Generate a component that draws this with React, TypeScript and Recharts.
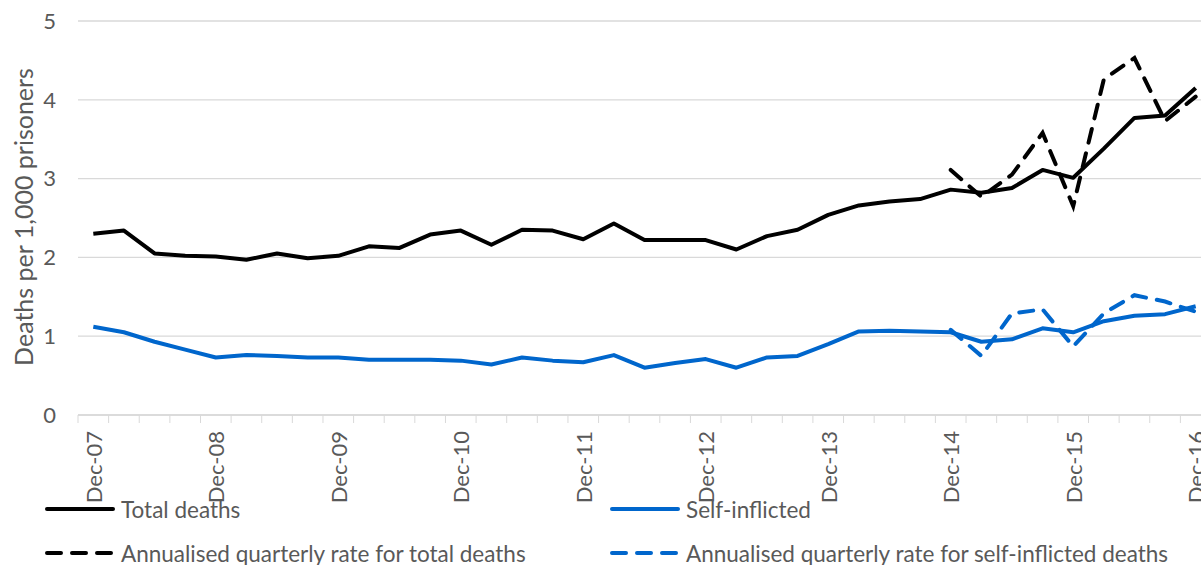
import { LineChart, Line, XAxis, YAxis, CartesianGrid } from "recharts"

const quarters = [
  "Dec-07", "Mar-08", "Jun-08", "Sep-08", "Dec-08", "Mar-09", "Jun-09", "Sep-09",
  "Dec-09", "Mar-10", "Jun-10", "Sep-10", "Dec-10", "Mar-11", "Jun-11", "Sep-11",
  "Dec-11", "Mar-12", "Jun-12", "Sep-12", "Dec-12", "Mar-13", "Jun-13", "Sep-13",
  "Dec-13", "Mar-14", "Jun-14", "Sep-14", "Dec-14", "Mar-15", "Jun-15", "Sep-15",
  "Dec-15", "Mar-16", "Jun-16", "Sep-16", "Dec-16",
]

// tick labels shown on the x axis (one per year)
const tickLabels = ["Dec-07", "Dec-08", "Dec-09", "Dec-10", "Dec-11", "Dec-12", "Dec-13", "Dec-14", "Dec-15", "Dec-16"]

// rolling 12 months rate per 1,000 prisoners
const totalDeaths = [
  2.30, 2.34, 2.05, 2.02, 2.01, 1.97, 2.05, 1.99, 2.02, 2.14, 2.12, 2.29, 2.34, 2.16, 2.35, 2.34,
  2.23, 2.43, 2.22, 2.22, 2.22, 2.10, 2.27, 2.35, 2.54, 2.66, 2.71, 2.74, 2.86, 2.82, 2.88, 3.11,
  3.01, 3.38, 3.77, 3.80, 4.15,
]
const selfInflicted = [
  1.12, 1.05, 0.93, 0.83, 0.73, 0.76, 0.75, 0.73, 0.73, 0.70, 0.70, 0.70, 0.69, 0.64, 0.73, 0.69,
  0.67, 0.76, 0.60, 0.66, 0.71, 0.60, 0.73, 0.75, 0.90, 1.06, 1.07, 1.06, 1.05, 0.93, 0.96, 1.10,
  1.05, 1.19, 1.26, 1.28, 1.38,
]

// annualised quarterly rates, from Dec-14 onwards
const annualStart = "Dec-14"
const annualTotal = [3.11, 2.77, 3.05, 3.58, 2.65, 4.26, 4.53, 3.73, 4.04]
const annualSelf = [1.08, 0.75, 1.29, 1.34, 0.87, 1.29, 1.52, 1.44, 1.31]

const yTicks = [0, 1, 2, 3, 4, 5]

const BLACK = "#000000"
const BLUE = "#0066cc"
const GREY = "#595959"
const GRID = "#d9d9d9"
const FONT = "Lato, 'Noto Sans', sans-serif"
const DASH = "14 11"

const startIdx = quarters.indexOf(annualStart)
const data = quarters.map((q, i) => ({
  idx: i,
  quarter: q,
  total: totalDeaths[i],
  self: selfInflicted[i],
  annualTotal: i >= startIdx ? annualTotal[i - startIdx] : null,
  annualSelf: i >= startIdx ? annualSelf[i - startIdx] : null,
}))

const boundaryTicks = quarters.map((_, i) => i - 0.5).concat([quarters.length - 0.5])
const labelTicks = tickLabels.map((t) => quarters.indexOf(t))
const xTicks = [...boundaryTicks, ...labelTicks].sort((a, b) => a - b)

const legendItems = [
  { name: "Total deaths", color: BLACK, dashed: false, x: 45, y: 509 },
  { name: "Self-inflicted", color: BLUE, dashed: false, x: 610, y: 509 },
  { name: "Annualised quarterly rate for total deaths", color: BLACK, dashed: true, x: 45, y: 553 },
  { name: "Annualised quarterly rate for self-inflicted deaths", color: BLUE, dashed: true, x: 610, y: 553 },
]

function QuarterTick(props: any) {
  const { x, y, payload } = props
  const v = payload.value
  if (!Number.isInteger(v)) {
    return <line x1={x} x2={x} y1={y} y2={y + 8} stroke={GRID} strokeWidth={1} />
  }
  const ty = y + 16
  return (
    <text
      x={x}
      y={ty}
      transform={`rotate(-90 ${x} ${ty})`}
      textAnchor="end"
      dominantBaseline="central"
      fill={GREY}
      fontSize={22}
      fontFamily={FONT}
    >
      {quarters[v]}
    </text>
  )
}

function YTitle() {
  return (
    <text
      x={23}
      y={217}
      transform="rotate(-90 23 217)"
      textAnchor="middle"
      dominantBaseline="central"
      fill={GREY}
      fontSize={25}
      fontFamily={FONT}
    >
      Deaths per 1,000 prisoners
    </text>
  )
}

export default function App() {
  return (
    <div
      style={{
        position: "fixed",
        top: 0,
        left: 0,
        width: 1201,
        height: 565,
        overflow: "hidden",
        background: "#ffffff",
      }}
    >
      <LineChart width={1215} height={565} data={data} margin={{ top: 21, right: 4, left: 0, bottom: 0 }}>
        <CartesianGrid vertical={false} stroke={GRID} strokeWidth={1.3} />
        <XAxis
          dataKey="idx"
          type="number"
          domain={[-0.5, quarters.length - 0.5]}
          ticks={xTicks}
          interval={0}
          height={150}
          tickSize={0}
          tickMargin={0}
          tickLine={false}
          axisLine={{ stroke: GRID, strokeWidth: 1.3 }}
          tick={<QuarterTick />}
        />
        <YAxis
          type="number"
          domain={[0, 5]}
          ticks={yTicks}
          width={78}
          axisLine={false}
          tickLine={false}
          tickMargin={16}
          tick={{ fill: GREY, fontSize: 22, fontFamily: FONT }}
          label={YTitle}
        />
        <Line type="linear" dataKey="total" stroke={BLACK} strokeWidth={4} dot={false} isAnimationActive={false} strokeLinejoin="round" />
        <Line type="linear" dataKey="self" stroke={BLUE} strokeWidth={4} dot={false} isAnimationActive={false} strokeLinejoin="round" />
        <Line
          type="linear"
          dataKey="annualTotal"
          stroke={BLACK}
          strokeWidth={4}
          strokeDasharray={DASH}
          strokeLinecap="round"
          dot={false}
          isAnimationActive={false}
        />
        <Line
          type="linear"
          dataKey="annualSelf"
          stroke={BLUE}
          strokeWidth={4}
          strokeDasharray={DASH}
          strokeLinecap="round"
          dot={false}
          isAnimationActive={false}
        />
      </LineChart>
      <svg width={1201} height={565} style={{ position: "absolute", top: 0, left: 0, pointerEvents: "none" }}>
        {legendItems.map((it) => (
          <g key={it.name}>
            <line
              x1={it.x + 2}
              x2={it.x + 68}
              y1={it.y}
              y2={it.y}
              stroke={it.color}
              strokeWidth={4}
              strokeLinecap="round"
              strokeDasharray={it.dashed ? DASH : undefined}
            />
            <text x={it.x + 76} y={it.y} dominantBaseline="central" fill={GREY} fontSize={22.5} fontFamily={FONT}>
              {it.name}
            </text>
          </g>
        ))}
      </svg>
    </div>
  )
}
